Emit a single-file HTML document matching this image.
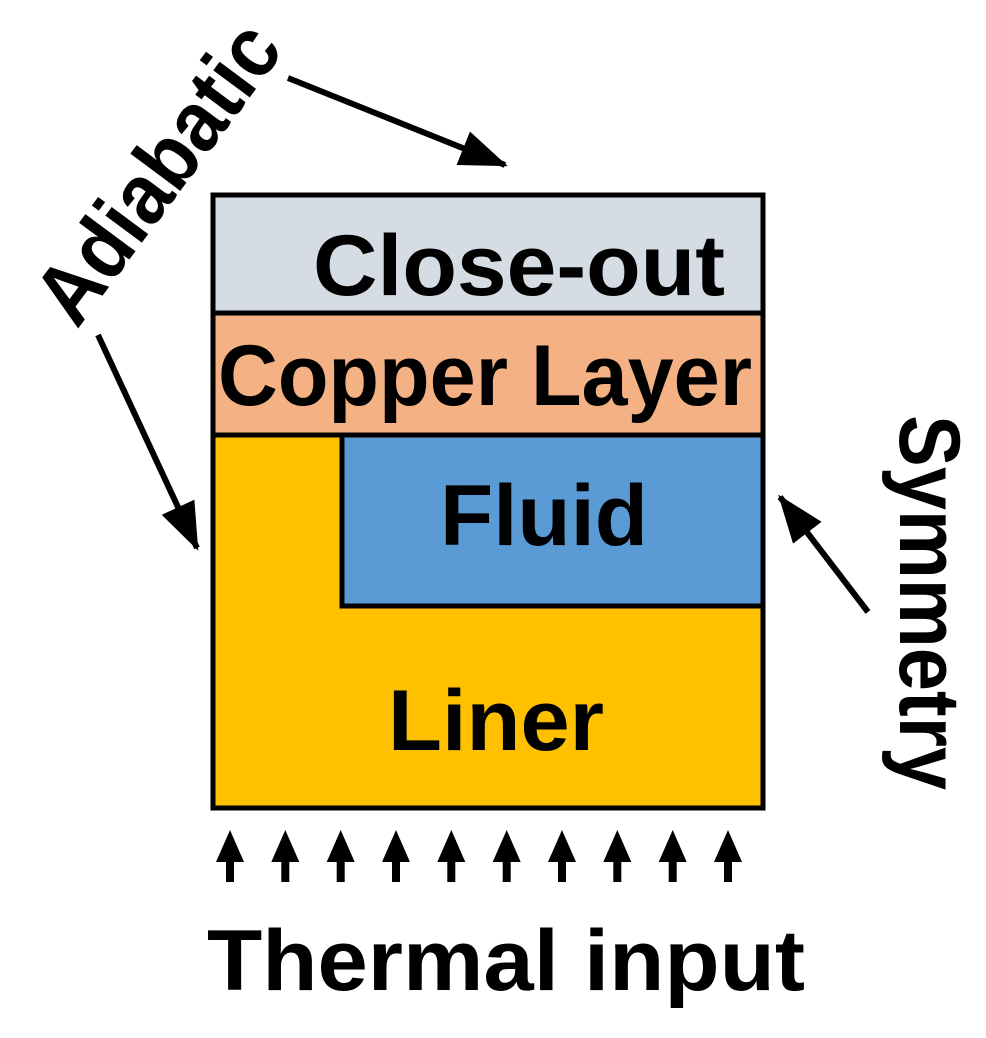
<!DOCTYPE html>
<html><head><meta charset="utf-8"><style>html,body{margin:0;padding:0;background:#fff}svg{display:block}</style></head>
<body>
<svg width="986" height="1038" viewBox="0 0 986 1038" xmlns="http://www.w3.org/2000/svg" font-family="Liberation Sans, Arial, sans-serif" font-weight="bold">
<defs>
<marker id="ah" markerWidth="8" markerHeight="6" refX="7.5" refY="3" orient="auto" markerUnits="strokeWidth">
<path d="M0,0 L8,3 L0,6 z" fill="#000"/>
</marker>
</defs>
<rect x="213" y="195" width="550" height="118" fill="#d6dce4"/>
<rect x="213" y="313" width="550" height="122" fill="#f4b183"/>
<rect x="213" y="435" width="550" height="373" fill="#ffc000"/>
<rect x="342" y="435" width="421" height="171" fill="#5b9bd5"/>
<g stroke="#000" stroke-width="5" fill="none">
<rect x="213" y="195" width="550" height="613"/>
<line x1="213" y1="313" x2="763" y2="313"/>
<line x1="213" y1="435" x2="763" y2="435"/>
<polyline points="342,435 342,606 763,606"/>
</g>
<text x="313" y="295" font-size="86" textLength="412" lengthAdjust="spacingAndGlyphs">Close-out</text>
<text x="218" y="405" font-size="86" textLength="534" lengthAdjust="spacingAndGlyphs">Copper Layer</text>
<text x="440" y="545" font-size="86" textLength="208" lengthAdjust="spacingAndGlyphs">Fluid</text>
<text x="388" y="750" font-size="86" textLength="216" lengthAdjust="spacingAndGlyphs">Liner</text>
<text x="207" y="990" font-size="86" textLength="598" lengthAdjust="spacingAndGlyphs">Thermal input</text>
<text transform="translate(77,330) rotate(-53.4)" font-size="86" textLength="349" lengthAdjust="spacingAndGlyphs">Adiabatic</text>
<text transform="translate(900,415) rotate(90)" font-size="86" textLength="375" lengthAdjust="spacingAndGlyphs">Symmetry</text>
<g stroke="#000" stroke-width="6" marker-end="url(#ah)">
<line x1="288" y1="78" x2="505" y2="165"/>
<line x1="98" y1="335" x2="197" y2="548"/>
<line x1="868" y1="612" x2="780" y2="497"/>
</g>
<g fill="#000">
<path id="ua" d="M230,830 L244,862 L234,862 L234,882 L226,882 L226,862 L216,862 z"/>
<use href="#ua" x="55.3"/><use href="#ua" x="110.7"/><use href="#ua" x="166"/><use href="#ua" x="221.3"/>
<use href="#ua" x="276.7"/><use href="#ua" x="332"/><use href="#ua" x="387.3"/><use href="#ua" x="442.7"/><use href="#ua" x="498"/>
</g>
</svg>
</body></html>
